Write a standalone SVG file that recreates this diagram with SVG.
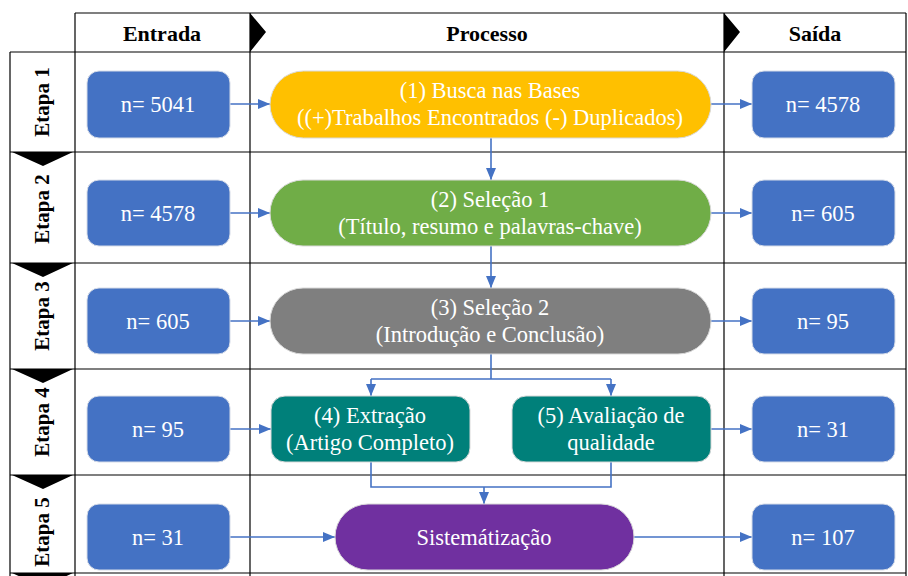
<svg xmlns="http://www.w3.org/2000/svg" width="908" height="576" viewBox="0 0 908 576">
<style>
.grid{stroke:#000;stroke-width:1.2;fill:none}
.hdr{font-family:"Liberation Serif",serif;font-weight:bold;font-size:22px;fill:#000;text-anchor:middle}
.etapa{font-family:"Liberation Serif",serif;font-weight:bold;font-size:21px;fill:#000;text-anchor:middle}
.t{font-family:"Liberation Serif",serif;font-size:22.5px;fill:#fff;text-anchor:middle}
.blue{fill:#4472C4;stroke:#D6DCE8;stroke-width:1}
.conn{stroke:#4472C4;stroke-width:1.6;fill:none}
.tri{fill:#000}
</style>
<defs>
<marker id="arr" viewBox="0 0 12 10" refX="12" refY="5" markerWidth="12" markerHeight="10" markerUnits="userSpaceOnUse" orient="auto">
<path d="M0,0 L12,5 L0,10 Z" fill="#4472C4"/>
</marker>
</defs>
<rect width="908" height="576" fill="#fff"/>
<g id="table">
<path class="grid" d="M75,13 H906 M10,52 H906 M10,152 H906 M10,263 H906 M10,369 H906 M10,475 H906 M10,573 H906 M10,52 V576 M75,13 V576 M250,13 V576 M724,13 V576 M906,13 V576"/>
<path class="tri" d="M250,13 L266,32 L250,52 Z M724,13 L740,32 L724,52 Z"/>
<path class="tri" d="M12,152 L73,152 L43,166 Z M12,263 L73,263 L43,277 Z M12,369 L73,369 L43,383 Z M12,475 L73,475 L43,489 Z M12,573 L73,573 L43,587 Z"/>
<text class="hdr" x="162" y="41">Entrada</text>
<text class="hdr" x="487" y="41">Processo</text>
<text class="hdr" x="815" y="41">Saída</text>
<text class="etapa" transform="translate(49,102) rotate(-90)">Etapa 1</text>
<text class="etapa" transform="translate(49,209) rotate(-90)">Etapa 2</text>
<text class="etapa" transform="translate(49,316) rotate(-90)">Etapa 3</text>
<text class="etapa" transform="translate(49,422) rotate(-90)">Etapa 4</text>
<text class="etapa" transform="translate(49,532) rotate(-90)">Etapa 5</text>
</g>
<g id="connectors">
<path class="conn" marker-end="url(#arr)" d="M230,104 H270"/>
<path class="conn" marker-end="url(#arr)" d="M711,104 H752"/>
<path class="conn" marker-end="url(#arr)" d="M491,138 V180"/>
<path class="conn" marker-end="url(#arr)" d="M230,213 H270"/>
<path class="conn" marker-end="url(#arr)" d="M711,213 H752"/>
<path class="conn" marker-end="url(#arr)" d="M491,246 V288"/>
<path class="conn" marker-end="url(#arr)" d="M230,321 H270"/>
<path class="conn" marker-end="url(#arr)" d="M711,321 H752"/>
<path class="conn" d="M491,354 V379 M371,379 H611"/>
<path class="conn" marker-end="url(#arr)" d="M371,379 V396"/>
<path class="conn" marker-end="url(#arr)" d="M611,379 V396"/>
<path class="conn" marker-end="url(#arr)" d="M230,429 H271"/>
<path class="conn" marker-end="url(#arr)" d="M711,429 H752"/>
<path class="conn" d="M371,462 V487 H611 V462"/>
<path class="conn" marker-end="url(#arr)" d="M484,487 V504"/>
<path class="conn" marker-end="url(#arr)" d="M230,537 H335"/>
<path class="conn" marker-end="url(#arr)" d="M634,537 H752"/>
</g>
<g id="in1"><rect class="blue" x="87" y="71" width="143" height="67" rx="12"/><text class="t" x="158" y="112">n= 5041</text></g>
<g id="p1"><rect x="270" y="71" width="441" height="67" rx="33.5" fill="#FFC000" stroke="#D9D9D9"/><text class="t" x="490" y="98">(1) Busca nas Bases</text><text class="t" x="490" y="125">((+)Trabalhos Encontrados (-) Duplicados)</text></g>
<g id="out1"><rect class="blue" x="752" y="71" width="143" height="67" rx="12"/><text class="t" x="823" y="112">n= 4578</text></g>
<g id="in2"><rect class="blue" x="87" y="180" width="143" height="66" rx="12"/><text class="t" x="158" y="221">n= 4578</text></g>
<g id="p2"><rect x="270" y="180" width="441" height="66" rx="33" fill="#70AD47" stroke="#D9D9D9"/><text class="t" x="490" y="207">(2) Seleção 1</text><text class="t" x="490" y="234">(Título, resumo e palavras-chave)</text></g>
<g id="out2"><rect class="blue" x="752" y="180" width="143" height="66" rx="12"/><text class="t" x="823" y="221">n= 605</text></g>
<g id="in3"><rect class="blue" x="87" y="288" width="143" height="66" rx="12"/><text class="t" x="158" y="329">n= 605</text></g>
<g id="p3"><rect x="270" y="288" width="441" height="66" rx="33" fill="#7F7F7F" stroke="#D9D9D9"/><text class="t" x="490" y="315">(3) Seleção 2</text><text class="t" x="490" y="342">(Introdução e Conclusão)</text></g>
<g id="out3"><rect class="blue" x="752" y="288" width="143" height="66" rx="12"/><text class="t" x="823" y="329">n= 95</text></g>
<g id="in4"><rect class="blue" x="87" y="396" width="143" height="66" rx="12"/><text class="t" x="158" y="437">n= 95</text></g>
<g id="p4"><rect x="271" y="396" width="199" height="66" rx="14" fill="#00807A" stroke="#D9D9D9"/><text class="t" x="370" y="423">(4) Extração</text><text class="t" x="370" y="450">(Artigo Completo)</text></g>
<g id="p5"><rect x="512" y="396" width="199" height="66" rx="14" fill="#00807A" stroke="#D9D9D9"/><text class="t" x="611" y="423">(5) Avaliação de</text><text class="t" x="611" y="450">qualidade</text></g>
<g id="out4"><rect class="blue" x="752" y="396" width="143" height="66" rx="12"/><text class="t" x="823" y="437">n= 31</text></g>
<g id="in5"><rect class="blue" x="87" y="504" width="143" height="66" rx="12"/><text class="t" x="158" y="545">n= 31</text></g>
<g id="p6"><rect x="335" y="504" width="299" height="66" rx="33" fill="#7030A0" stroke="#D9D9D9"/><text class="t" x="484" y="545">Sistemátização</text></g>
<g id="out5"><rect class="blue" x="752" y="504" width="143" height="66" rx="12"/><text class="t" x="823" y="545">n= 107</text></g>
</svg>
